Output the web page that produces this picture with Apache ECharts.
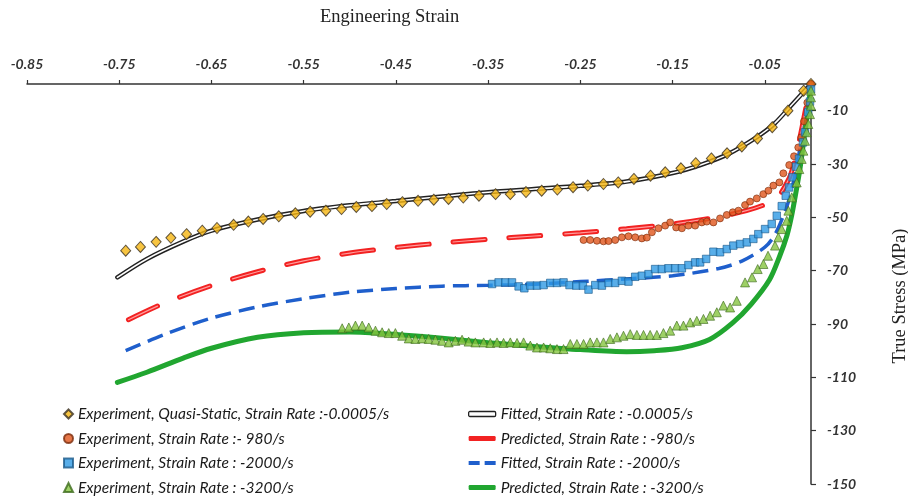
<!DOCTYPE html>
<html>
<head>
<meta charset="utf-8">
<script src="https://cdn.jsdelivr.net/npm/echarts@6/dist/echarts.min.js"></script>
<style>
  html, body { margin: 0; padding: 0; background: #fff; }
  #chart { width: 908px; height: 500px; }
</style>
</head>
<body>
<div id="chart"></div>
<script>
// engineering strain vs true stress (MPa)
var expQuasi = [[-0.743,-62.5],[-0.727,-61.1],[-0.710,-59.2],[-0.694,-57.7],[-0.677,-56.3],[-0.660,-55.0],[-0.644,-54.0],[-0.626,-52.8],[-0.610,-51.6],[-0.594,-50.6],[-0.577,-49.6],[-0.559,-48.5],[-0.543,-47.9],[-0.526,-47.5],[-0.509,-46.9],[-0.493,-46.1],[-0.476,-45.8],[-0.460,-45.0],[-0.443,-44.3],[-0.426,-43.8],[-0.409,-43.4],[-0.393,-43.1],[-0.377,-42.6],[-0.360,-41.9],[-0.342,-41.3],[-0.326,-41.3],[-0.309,-40.5],[-0.292,-40.0],[-0.275,-39.6],[-0.258,-38.7],[-0.242,-38.1],[-0.225,-37.5],[-0.209,-36.9],[-0.192,-35.6],[-0.174,-34.4],[-0.158,-33.1],[-0.141,-31.6],[-0.125,-29.7],[-0.108,-27.9],[-0.091,-26.0],[-0.075,-23.4],[-0.058,-20.4],[-0.042,-16.2],[-0.025,-10.0],[-0.008,-2.5],[0,0]];

var expRed = [[-0.2466,-58.5],[-0.2394,-58.5],[-0.2321,-58.8],[-0.2250,-59.0],[-0.2195,-58.9],[-0.2123,-58.5],[-0.2050,-57.5],[-0.1979,-57.1],[-0.1906,-57.5],[-0.1834,-57.9],[-0.1780,-57.6],[-0.1725,-55.6],[-0.1654,-54.1],[-0.1581,-53.1],[-0.1527,-51.9],[-0.1462,-53.8],[-0.1400,-54.1],[-0.1329,-53.1],[-0.1256,-53.1],[-0.1184,-51.9],[-0.1130,-51.6],[-0.1058,-51.9],[-0.0986,-50.4],[-0.0913,-49.1],[-0.0848,-48.1],[-0.0787,-47.5],[-0.0715,-45.4],[-0.0661,-44.1],[-0.0588,-42.9],[-0.0517,-41.3],[-0.0462,-40.0],[-0.0408,-38.1],[-0.0343,-36.9],[-0.0300,-33.5],[-0.0236,-30.4],[-0.0184,-27.1],[-0.0138,-23.8],[-0.0105,-20.0],[-0.0076,-14.0],[-0.0040,-7.0],[0,0]];

var expBlue = [[-0.3458,-75.0],[-0.3387,-74.4],[-0.3314,-74.4],[-0.3242,-74.4],[-0.3170,-75.9],[-0.3108,-76.6],[-0.3043,-75.6],[-0.2971,-75.6],[-0.2899,-75.4],[-0.2827,-74.6],[-0.2754,-74.6],[-0.2683,-74.4],[-0.2618,-75.4],[-0.2545,-75.6],[-0.2473,-75.6],[-0.2412,-77.1],[-0.2339,-75.4],[-0.2267,-75.6],[-0.2195,-74.6],[-0.2123,-74.6],[-0.2050,-73.8],[-0.1979,-74.1],[-0.1906,-72.3],[-0.1834,-71.9],[-0.1762,-71.3],[-0.1690,-69.4],[-0.1617,-69.4],[-0.1546,-69.1],[-0.1473,-69.1],[-0.1400,-69.1],[-0.1329,-67.9],[-0.1256,-66.9],[-0.1202,-66.9],[-0.1137,-65.6],[-0.1058,-62.9],[-0.0986,-63.1],[-0.0913,-61.9],[-0.0842,-60.6],[-0.0769,-60.0],[-0.0696,-59.4],[-0.0625,-58.1],[-0.0571,-56.3],[-0.0498,-54.4],[-0.0426,-52.5],[-0.0371,-49.4],[-0.0317,-45.8],[-0.0274,-41.9],[-0.0238,-38.8],[-0.0200,-35.0],[-0.0162,-31.0],[-0.0130,-28.0],[-0.0087,-21.9],[-0.0065,-18.1],[-0.0030,-10.6],[-0.0011,-6.6],[0,-2]];

var expGreen = [[-0.5083,-91.6],[-0.5011,-91.3],[-0.4939,-90.6],[-0.4866,-90.6],[-0.4795,-91.3],[-0.4722,-92.5],[-0.4650,-93.1],[-0.4578,-93.4],[-0.4506,-93.4],[-0.4433,-94.4],[-0.4361,-95.4],[-0.4289,-95.6],[-0.4216,-95.4],[-0.4145,-95.6],[-0.4072,-95.9],[-0.4000,-96.3],[-0.3928,-96.9],[-0.3856,-96.3],[-0.3783,-95.9],[-0.3712,-96.6],[-0.3639,-96.9],[-0.3549,-96.9],[-0.3477,-97.1],[-0.3404,-96.9],[-0.3333,-97.1],[-0.3260,-96.9],[-0.3187,-97.1],[-0.3116,-96.9],[-0.3043,-98.1],[-0.2971,-98.8],[-0.2899,-98.8],[-0.2827,-99.1],[-0.2754,-99.4],[-0.2683,-99.4],[-0.2610,-97.5],[-0.2538,-97.5],[-0.2466,-97.5],[-0.2394,-96.9],[-0.2321,-96.9],[-0.2250,-96.9],[-0.2177,-95.6],[-0.2104,-95.0],[-0.2033,-94.4],[-0.1960,-93.8],[-0.1888,-94.1],[-0.1816,-94.1],[-0.1744,-94.1],[-0.1671,-94.1],[-0.1600,-93.4],[-0.1527,-92.5],[-0.1455,-90.6],[-0.1383,-90.6],[-0.1310,-89.4],[-0.1238,-88.8],[-0.1166,-88.1],[-0.1094,-86.9],[-0.1021,-85.6],[-0.0950,-83.1],[-0.0877,-83.8],[-0.0805,-81.3],[-0.0715,-74.4],[-0.0639,-72.5],[-0.0578,-69.4],[-0.0516,-67.5],[-0.0466,-64.4],[-0.0390,-60.6],[-0.0354,-57.5],[-0.0318,-54.4],[-0.0263,-51.3],[-0.0245,-47.5],[-0.0209,-42.5],[-0.0155,-36.9],[-0.0127,-31.9],[-0.0101,-28.1],[-0.0083,-25.0],[-0.0065,-21.3],[-0.0047,-18.1],[-0.0029,-15.0],[-0.0011,-11.3],[0,-8.1],[0,-5.0],[0,-2.5]];

var fitQuasi = [[-0.752,-72.5],[-0.72,-65.6],[-0.68,-59.0],[-0.65,-55.0],[-0.60,-50.8],[-0.55,-47.6],[-0.50,-45.5],[-0.45,-43.9],[-0.40,-42.2],[-0.35,-40.6],[-0.30,-39.4],[-0.25,-38.2],[-0.20,-36.6],[-0.15,-33.4],[-0.12,-30.4],[-0.09,-26.3],[-0.06,-20.2],[-0.04,-15.0],[-0.02,-7.5],[0,0]];

var predRed = [[-0.740,-88.4],[-0.70,-82.0],[-0.65,-75.6],[-0.60,-70.4],[-0.55,-66.3],[-0.50,-63.4],[-0.45,-61.3],[-0.40,-59.6],[-0.35,-58.2],[-0.30,-57.0],[-0.25,-55.8],[-0.20,-54.3],[-0.15,-52.5],[-0.10,-49.8],[-0.07,-47.5],[-0.05,-45.2],[-0.036,-42.4],[-0.024,-35.6],[-0.0195,-31.1],[-0.012,-20.0],[-0.005,-8.0],[0,0]];

var fitBlue = [[-0.743,-100.0],[-0.70,-93.8],[-0.65,-87.8],[-0.60,-83.6],[-0.55,-80.5],[-0.50,-78.1],[-0.45,-76.7],[-0.40,-75.8],[-0.35,-75.5],[-0.30,-75.1],[-0.25,-74.1],[-0.20,-73.1],[-0.15,-71.9],[-0.10,-69.2],[-0.075,-66.4],[-0.05,-61.2],[-0.04,-57.0],[-0.03,-49.5],[-0.0227,-42.0],[-0.015,-30.0],[-0.0087,-17.0],[-0.0032,-7.5],[0,0]];

var predGreen = [[-0.752,-111.9],[-0.72,-108.1],[-0.68,-102.7],[-0.65,-99.1],[-0.60,-95.0],[-0.55,-93.3],[-0.50,-93.0],[-0.45,-93.9],[-0.40,-95.3],[-0.35,-97.0],[-0.30,-98.4],[-0.25,-99.6],[-0.20,-100.4],[-0.17,-100.0],[-0.14,-98.9],[-0.11,-95.8],[-0.085,-89.6],[-0.065,-82.6],[-0.045,-73.4],[-0.034,-64.6],[-0.026,-56.7],[-0.021,-49.4],[-0.017,-41.9],[-0.012,-31.9],[-0.0076,-20.6],[-0.0032,-9.4],[0,0]];

var expNames = [
  'Experiment, Quasi-Static, Strain Rate :-0.0005/s',
  'Experiment, Strain Rate :- 980/s',
  'Experiment, Strain Rate : -2000/s',
  'Experiment, Strain Rate : -3200/s'
];
var lineNames = [
  'Fitted, Strain Rate : -0.0005/s',
  'Predicted, Strain Rate : -980/s',
  'Fitted, Strain Rate : -2000/s',
  'Predicted, Strain Rate : -3200/s'
];

var labelFont = { fontFamily: 'Lato', fontStyle: 'italic', fontWeight: 'bold', fontSize: 14, color: '#333' };
var legendFont = { fontFamily: 'Lato', fontStyle: 'italic', fontSize: 15.5, color: '#1a1a1a' };
var serifFont = { fontFamily: 'Liberation Serif', fontWeight: 'normal', fontSize: 18.5, color: '#222' };

var myChart = echarts.init(document.getElementById('chart'));

var option = {
  animation: false,
  backgroundColor: '#fff',
  title: {
    text: 'Engineering Strain',
    left: 315,
    top: 3,
    textStyle: serifFont
  },
  grid: { left: 27, right: 97, top: 84, bottom: 16, outerBoundsMode: 'none', containLabel: false },
  xAxis: {
    type: 'value',
    position: 'top',
    min: -0.85,
    max: 0,
    interval: 0.1,
    splitLine: { show: false },
    axisLine: { onZero: false, lineStyle: { color: '#333', width: 1.5 } },
    axisTick: { inside: false, length: 4, lineStyle: { color: '#333', width: 1.2 } },
    axisLabel: Object.assign({
      margin: 13,
      formatter: function (v) { return Math.abs(v) < 1e-9 ? '' : v.toFixed(2); }
    }, labelFont)
  },
  yAxis: {
    type: 'value',
    position: 'right',
    min: -150,
    max: 0,
    interval: 20,
    name: 'True Stress (MPa)',
    nameLocation: 'middle',
    nameRotate: 90,
    nameGap: 80,
    nameTextStyle: Object.assign({ padding: [0, 24, 0, 0] }, serifFont),
    splitLine: { show: false },
    axisLine: { onZero: false, lineStyle: { color: '#333', width: 1.5 } },
    axisTick: { length: 5, lineStyle: { color: '#333', width: 1.2 } },
    axisLabel: Object.assign({
      margin: 16,
      formatter: function (v) { return Math.abs(v) < 1e-9 ? '' : String(v); }
    }, labelFont)
  },
  legend: [{
    orient: 'vertical',
    left: 58,
    top: 401,
    height: 100,
    itemWidth: 9,
    itemHeight: 9,
    itemGap: 8.5,
    textStyle: legendFont,
    data: expNames
  }, {
    orient: 'vertical',
    left: 463,
    top: 401,
    height: 100,
    itemWidth: 27,
    itemHeight: 5,
    itemGap: 8.5,
    textStyle: legendFont,
    data: [
      { name: lineNames[0], icon: 'roundRect', itemStyle: { color: '#fff', borderColor: '#222', borderWidth: 1.3 } },
      { name: lineNames[1], icon: 'roundRect', itemStyle: { color: '#f22222', borderWidth: 0 } },
      { name: lineNames[2], icon: 'path://M0,0h11v4h-11z M16,0h11v4h-11z', itemStyle: { color: '#1f5fcc', borderWidth: 0 } },
      { name: lineNames[3], icon: 'roundRect', itemStyle: { color: '#21a630', borderWidth: 0 } }
    ]
  }],
  series: [
    {
      name: lineNames[0], type: 'line', data: fitQuasi, showSymbol: false, symbol: 'none',
      smooth: 0.3, z: 2,
      lineStyle: { color: '#222', width: 4.5, cap: 'round' }, itemStyle: { color: '#222' }
    },
    {
      name: 'fitQuasiInner', type: 'line', data: fitQuasi, showSymbol: false, symbol: 'none',
      smooth: 0.3, z: 3, silent: true,
      lineStyle: { color: '#fff', width: 1.6, cap: 'round' }
    },
    {
      name: lineNames[1], type: 'line', data: predRed, showSymbol: false, symbol: 'none',
      smooth: 0.3, z: 2,
      lineStyle: { color: '#f22222', width: 5, type: [32, 24], cap: 'round' }, itemStyle: { color: '#f22222' }
    },
    {
      name: 'predRedInner', type: 'line', data: predRed, showSymbol: false, symbol: 'none',
      smooth: 0.3, z: 3, silent: true,
      lineStyle: { color: '#ff9c9c', width: 1.2, type: [32, 24], cap: 'round' }
    },
    {
      name: lineNames[2], type: 'line', data: fitBlue, showSymbol: false, symbol: 'none',
      smooth: 0.3, z: 2,
      lineStyle: { color: '#1f5fcc', width: 3.5, type: [16, 8] }, itemStyle: { color: '#1f5fcc' }
    },
    {
      name: lineNames[3], type: 'line', data: predGreen, showSymbol: false, symbol: 'none',
      smooth: 0.3, z: 2,
      lineStyle: { color: '#21a630', width: 5, cap: 'round' }, itemStyle: { color: '#21a630' }
    },
    {
      name: expNames[0], type: 'scatter', data: expQuasi, symbol: 'diamond', symbolSize: [10, 11], z: 5,
      itemStyle: { color: '#f5b512', borderColor: '#3a3020', borderWidth: 1 }
    },
    {
      name: expNames[1], type: 'scatter', data: expRed, symbol: 'circle', symbolSize: 7, z: 5,
      itemStyle: { color: '#e0551b', borderColor: '#7a2a0a', borderWidth: 0.8 }
    },
    {
      name: expNames[2], type: 'scatter', data: expBlue, symbol: 'rect', symbolSize: 7.5, z: 5,
      itemStyle: { color: '#2f9ae3', borderColor: '#1c5a8a', borderWidth: 0.8 }
    },
    {
      name: expNames[3], type: 'scatter', data: expGreen, symbol: 'triangle', symbolSize: 9, z: 5,
      itemStyle: { color: '#86c440', borderColor: '#3c6a1c', borderWidth: 0.8 }
    }
  ]
};

myChart.setOption(option);
</script>
</body>
</html>
